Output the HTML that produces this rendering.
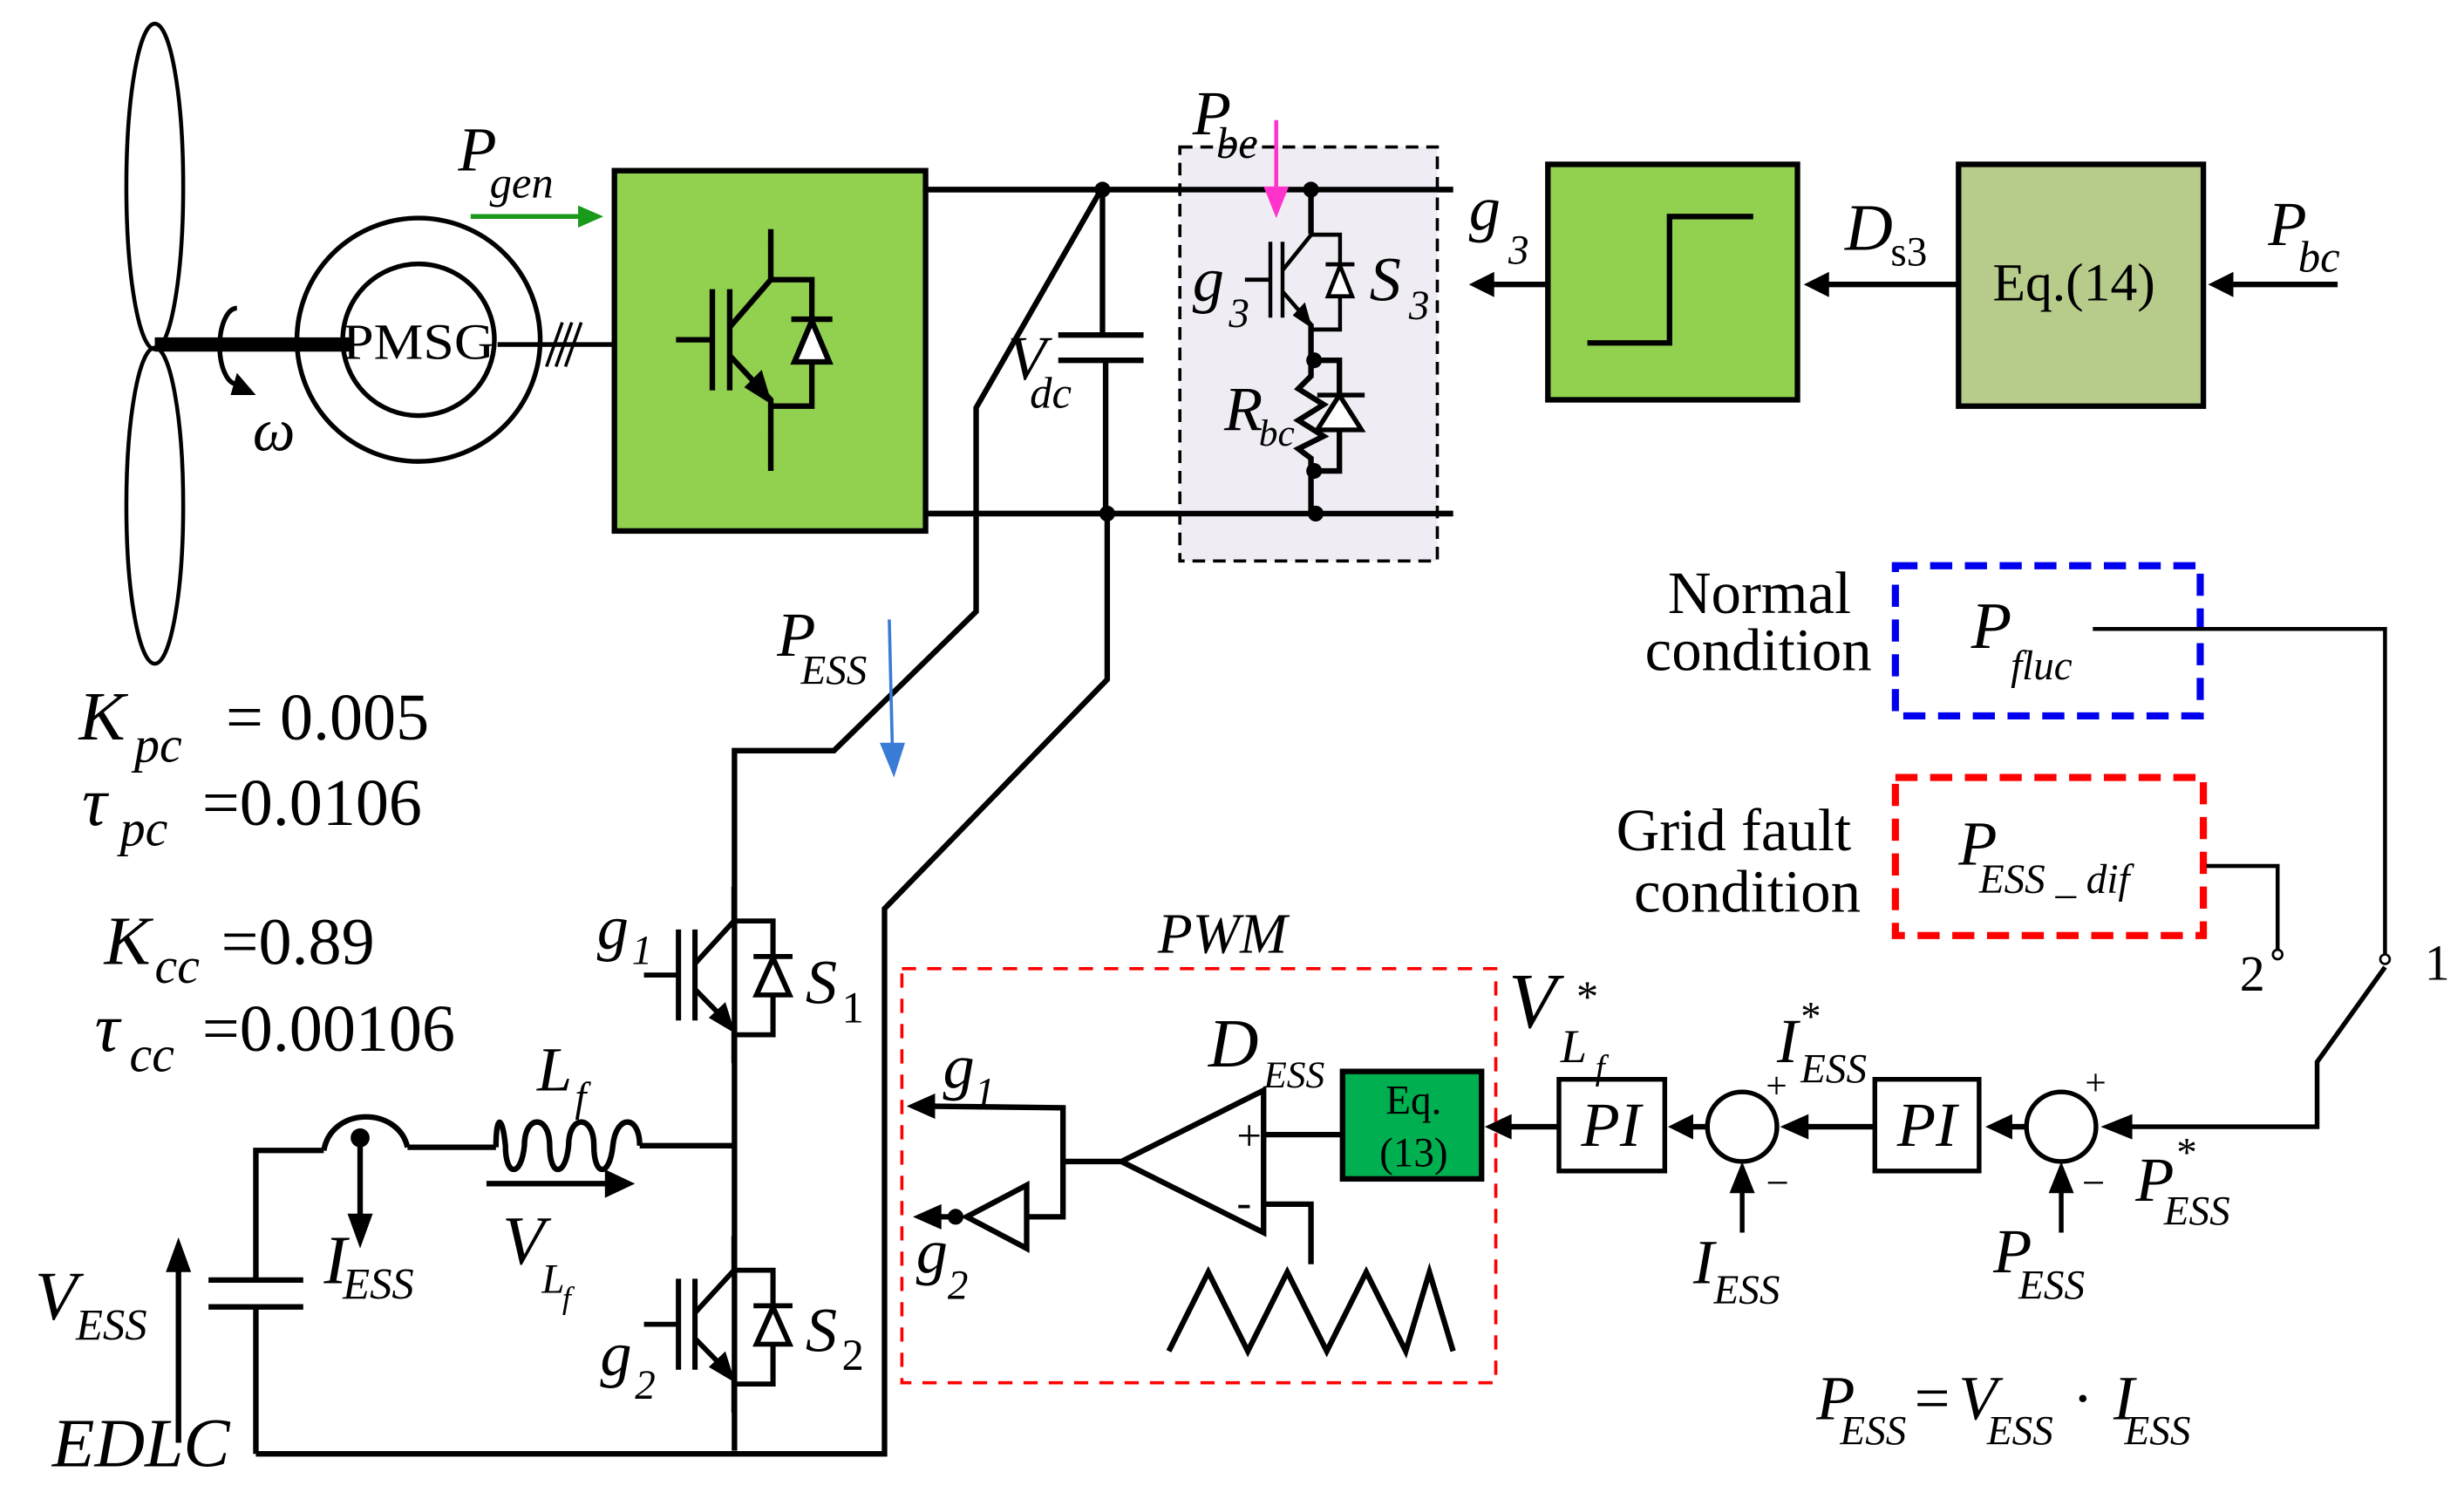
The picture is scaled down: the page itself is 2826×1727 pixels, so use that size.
<!DOCTYPE html>
<html><head><meta charset="utf-8"><style>
html,body{margin:0;padding:0;background:#fff;}
svg{display:block;}
text{font-family:"Liberation Serif","DejaVu Serif",serif;font-style:italic;fill:#000;}
.n{font-style:normal;}
</style></head><body>
<svg width="2826" height="1727" viewBox="0 0 1560 953" preserveAspectRatio="none" xmlns="http://www.w3.org/2000/svg">
<defs>
<g id="igbt" fill="none" stroke="#000" stroke-width="3.5">
<line x1="-34" y1="0" x2="-11" y2="0"/>
<line x1="-11" y1="-32" x2="-11" y2="32"/>
<line x1="0" y1="-32" x2="0" y2="32"/>
<polyline points="0,-8 26,-38 26,-62"/>
<polyline points="0,10 26,38 26,62"/>
<polygon points="26,40 10,30 20,20" fill="#000" stroke-width="1"/>
<polyline points="26,-38 52,-38 52,42 26,42"/>
<polygon points="41,14 63,14 52,-12" fill="#fff"/>
<line x1="39" y1="-13" x2="65" y2="-13"/>
</g>
</defs>

<ellipse cx="98" cy="118" rx="18" ry="103" fill="none" stroke="#000" stroke-width="2.5"/>
<ellipse cx="98" cy="320" rx="18" ry="100" fill="none" stroke="#000" stroke-width="2.5"/>
<line x1="98" y1="218" x2="222" y2="218" stroke="#000" stroke-width="9"/>
<path d="M150,195 A10,22 0 0 0 150,243" fill="none" stroke="#000" stroke-width="3"/>
<path d="M150,236 L162,250 L146,250z" fill="#000"/>
<text x="160" y="285" font-size="38">ω</text>
<circle cx="265" cy="215" r="77" fill="none" stroke="#000" stroke-width="3"/>
<circle cx="265" cy="215" r="48" fill="none" stroke="#000" stroke-width="3"/>
<text x="265" y="227" font-size="32" class="n" text-anchor="middle" textLength="96" lengthAdjust="spacingAndGlyphs">PMSG</text>
<line x1="315" y1="218" x2="388" y2="218" stroke="#000" stroke-width="3"/>
<g stroke="#000" stroke-width="2"><line x1="346" y1="232" x2="356" y2="204"/><line x1="352" y1="232" x2="362" y2="204"/><line x1="358" y1="232" x2="368" y2="204"/></g>

<text x="290" y="108" font-size="40">P</text><text x="310" y="125" font-size="28">gen</text>
<line x1="298" y1="137" x2="368" y2="137" stroke="#1a9a1a" stroke-width="3"/>
<path d="M366,130 L382,137 L366,144z" fill="#1a9a1a"/>

<rect x="389" y="108" width="197" height="228" fill="#92d050" stroke="#000" stroke-width="3.5"/>
<use href="#igbt" transform="translate(462,215)"/>
<line x1="488" y1="145" x2="488" y2="154" stroke="#000" stroke-width="3.5"/>
<line x1="488" y1="276" x2="488" y2="298" stroke="#000" stroke-width="3.5"/>

<g stroke="#000" stroke-width="3.5" fill="none">
<line x1="586" y1="120" x2="920" y2="120"/>
<line x1="586" y1="325" x2="920" y2="325"/>
<polyline points="696,122 618,258 618,387 528,475 465,475 465,918"/>
<polyline points="701,325 701,430 560,575 560,920 162,920"/>
<line x1="698" y1="120" x2="698" y2="212"/>
<line x1="670" y1="212" x2="724" y2="212"/>
<line x1="670" y1="228" x2="724" y2="228"/>
<line x1="700" y1="228" x2="700" y2="325"/>
</g>
<circle cx="698" cy="120" r="5" fill="#000"/><circle cx="701" cy="325" r="5" fill="#000"/>
<text x="638" y="240" font-size="40">V</text><text x="652" y="258" font-size="28">dc</text>

<rect x="747" y="93" width="163" height="262" fill="#efedf3" stroke="#000" stroke-width="2" stroke-dasharray="8,5"/>
<g stroke="#000" stroke-width="3.5" fill="none">
<line x1="586" y1="120" x2="920" y2="120"/>
<line x1="586" y1="325" x2="920" y2="325"/>
<line x1="830" y1="120" x2="830" y2="148"/>
<line x1="830" y1="205" x2="830" y2="228"/>
<polyline points="830,228 830,238 822,246 838,256 822,266 838,276 822,284 830,290 830,325"/>
<polyline points="832,228 848,228 848,298 832,298"/>
</g>
<polygon points="834,272 862,272 848,250" fill="#fff" stroke="#000" stroke-width="3"/>
<line x1="834" y1="250" x2="864" y2="250" stroke="#000" stroke-width="3"/>
<use href="#igbt" transform="translate(812,177) scale(0.7,0.75)"/>
<circle cx="830" cy="120" r="5" fill="#000"/><circle cx="832" cy="228" r="5" fill="#000"/><circle cx="832" cy="298" r="5" fill="#000"/><circle cx="833" cy="325" r="5" fill="#000"/>
<text x="755" y="85" font-size="40">P</text><text x="770" y="100" font-size="28">be</text>
<line x1="808" y1="76" x2="808" y2="122" stroke="#ff33cc" stroke-width="2.5"/>
<path d="M800,118 L816,118 L808,138z" fill="#ff33cc"/>
<text x="755" y="190" font-size="40">g</text><text x="778" y="207" font-size="26">3</text>
<text x="867" y="190" font-size="40">S</text><text x="892" y="202" font-size="26">3</text>
<text x="775" y="272" font-size="40">R</text><text x="797" y="282" font-size="24">bc</text>
<text x="930" y="145" font-size="40">g</text><text x="955" y="167" font-size="26">3</text>

<line x1="980" y1="180" x2="944" y2="180" stroke="#000" stroke-width="3.5"/><path d="M946,172 L930,180 L946,188z" fill="#000"/>
<rect x="980" y="104" width="158" height="149" fill="#92d050" stroke="#000" stroke-width="3.5"/>
<polyline points="1005,217 1057,217 1057,137 1110,137" fill="none" stroke="#000" stroke-width="3.5"/>
<text x="1168" y="158" font-size="42">D</text><text x="1197" y="168" font-size="26" class="n">s3</text>
<line x1="1240" y1="180" x2="1156" y2="180" stroke="#000" stroke-width="3.5"/><path d="M1158,172 L1142,180 L1158,188z" fill="#000"/>
<rect x="1240" y="104" width="155" height="153" fill="#b7cb8b" stroke="#000" stroke-width="3.5"/>
<text x="1313" y="190" font-size="34" class="n" text-anchor="middle">Eq.(14)</text>
<text x="1436" y="155" font-size="40">P</text><text x="1455" y="172" font-size="28">bc</text>
<line x1="1480" y1="180" x2="1412" y2="180" stroke="#000" stroke-width="3.5"/><path d="M1414,172 L1398,180 L1414,188z" fill="#000"/>

<text x="50" y="468" font-size="44">K</text><text x="85" y="482" font-size="32">pc</text><text x="143" y="468" font-size="42" class="n">= 0.005</text>
<text x="52" y="522" font-size="44">τ</text><text x="76" y="535" font-size="32">pc</text><text x="128" y="522" font-size="42" class="n">=0.0106</text>
<text x="66" y="610" font-size="44">K</text><text x="98" y="622" font-size="32">cc</text><text x="140" y="610" font-size="42" class="n">=0.89</text>
<text x="60" y="665" font-size="44">τ</text><text x="82" y="678" font-size="32">cc</text><text x="128" y="665" font-size="42" class="n">=0.00106</text>

<text x="492" y="415" font-size="40">P</text><text x="507" y="433" font-size="26">ESS</text>
<line x1="563" y1="392" x2="565" y2="475" stroke="#3a7bd5" stroke-width="2"/><path d="M557,470 L573,470 L566,492z" fill="#3a7bd5"/>

<use href="#igbt" transform="translate(440,617) scale(0.95,0.9)"/>
<use href="#igbt" transform="translate(440,838) scale(0.95,0.9)"/>
<text x="378" y="600" font-size="40">g</text><text x="400" y="610" font-size="26">1</text>
<text x="510" y="635" font-size="40">S</text><text x="533" y="647" font-size="28" class="n">1</text>
<text x="380" y="870" font-size="40">g</text><text x="402" y="885" font-size="26">2</text>
<text x="510" y="855" font-size="40">S</text><text x="533" y="867" font-size="28" class="n">2</text>

<g stroke="#000" stroke-width="3.5" fill="none">
<polyline points="465,725 405,725"/>
<path d="M405,725 C405,705 390,705 388,725 M388,725 C386,745 376,745 376,725 C376,705 360,705 360,725 C358,745 348,745 348,725 C348,705 332,705 332,725 C330,745 320,745 320,725 C318,705 314,705 314,726"/>
<polyline points="314,726 258,726"/>
<path d="M258,726 C252,700 210,700 205,728"/>
<polyline points="205,728 162,728 162,810"/>
<line x1="132" y1="810" x2="192" y2="810"/>
<line x1="132" y1="827" x2="192" y2="827"/>
<line x1="162" y1="827" x2="162" y2="920"/>
<line x1="228" y1="720" x2="228" y2="770"/>
<line x1="308" y1="749" x2="385" y2="749"/>
<line x1="113" y1="800" x2="113" y2="913"/>
</g>
<circle cx="228" cy="720" r="6" fill="#000"/>
<path d="M220,768 L236,768 L228,790z" fill="#000"/>
<path d="M383,740 L402,749 L383,758z" fill="#000"/>
<path d="M105,805 L121,805 L113,783z" fill="#000"/>
<text x="340" y="690" font-size="40">L</text><text x="364" y="703" font-size="26">f</text>
<text x="318" y="800" font-size="44">V</text><text x="343" y="818" font-size="26">L</text><text x="356" y="828" font-size="20">f</text>
<text x="205" y="812" font-size="44">I</text><text x="217" y="822" font-size="28">ESS</text>
<text x="22" y="835" font-size="44">V</text><text x="48" y="848" font-size="28">ESS</text>
<text x="33" y="928" font-size="44">EDLC</text>

<text x="733" y="603" font-size="36">PWM</text>
<rect x="571" y="613" width="376" height="262" fill="none" stroke="#ff0000" stroke-width="2" stroke-dasharray="9,7"/>
<g stroke="#000" stroke-width="3.5" fill="none">
<polygon points="800,690 800,780 710,735"/>
<polyline points="710,735 673,735 673,701 590,700"/>
<polyline points="673,735 673,770 650,770"/>
<polygon points="650,750 650,790 612,770"/>
<line x1="604" y1="770" x2="595" y2="770"/>
<polyline points="800,718 850,718"/>
<polyline points="800,762 830,762 830,800"/>
<polyline points="740,855 765,805 790,855 815,805 840,855 865,805 890,855 905,805 920,855"/>
</g>
<circle cx="605" cy="770" r="5" fill="#000"/>
<path d="M592,692 L574,700 L592,708z" fill="#000"/>
<path d="M596,762 L578,770 L596,778z" fill="#000"/>
<text x="783" y="728" font-size="28" class="n">+</text><text x="783" y="770" font-size="28" class="n">-</text>
<text x="597" y="688" font-size="40">g</text><text x="617" y="700" font-size="26">1</text>
<text x="580" y="805" font-size="40">g</text><text x="600" y="822" font-size="26">2</text>
<text x="765" y="675" font-size="44">D</text><text x="800" y="688" font-size="24">ESS</text>
<rect x="850" y="678" width="88" height="68" fill="#00b050" stroke="#000" stroke-width="3.5"/>
<text x="895" y="705" font-size="26" class="n" text-anchor="middle">Eq.</text>
<text x="895" y="738" font-size="26" class="n" text-anchor="middle">(13)</text>

<line x1="986" y1="713" x2="955" y2="713" stroke="#000" stroke-width="3.5"/><path d="M957,705 L940,713 L957,721z" fill="#000"/>
<rect x="987" y="683" width="67" height="58" fill="#fff" stroke="#000" stroke-width="3"/>
<text x="1020" y="725" font-size="40" text-anchor="middle">PI</text>
<text x="955" y="650" font-size="50">V</text><text x="998" y="640" font-size="28" class="n">*</text><text x="988" y="672" font-size="30">L</text><text x="1010" y="683" font-size="22">f</text>
<line x1="1081" y1="713" x2="1070" y2="713" stroke="#000" stroke-width="3.5"/><path d="M1072,705 L1056,713 L1072,721z" fill="#000"/>
<circle cx="1103" cy="713" r="22" fill="#fff" stroke="#000" stroke-width="3"/>
<text x="1118" y="695" font-size="24" class="n">+</text><text x="1118" y="757" font-size="26" class="n">−</text>
<line x1="1103" y1="780" x2="1103" y2="752" stroke="#000" stroke-width="3"/><path d="M1095,755 L1111,755 L1103,735z" fill="#000"/>
<text x="1072" y="812" font-size="40">I</text><text x="1085" y="825" font-size="26">ESS</text>
<text x="1125" y="672" font-size="40">I</text><text x="1140" y="652" font-size="26" class="n">*</text><text x="1140" y="685" font-size="26">ESS</text>
<line x1="1187" y1="713" x2="1143" y2="713" stroke="#000" stroke-width="3.5"/><path d="M1145,705 L1127,713 L1145,721z" fill="#000"/>
<rect x="1187" y="683" width="66" height="58" fill="#fff" stroke="#000" stroke-width="3"/>
<text x="1220" y="725" font-size="40" text-anchor="middle">PI</text>
<line x1="1283" y1="713" x2="1272" y2="713" stroke="#000" stroke-width="3.5"/><path d="M1274,705 L1257,713 L1274,721z" fill="#000"/>
<circle cx="1305" cy="713" r="22" fill="#fff" stroke="#000" stroke-width="3"/>
<text x="1320" y="693" font-size="24" class="n">+</text><text x="1318" y="757" font-size="26" class="n">−</text>
<line x1="1305" y1="780" x2="1305" y2="752" stroke="#000" stroke-width="3"/><path d="M1297,755 L1313,755 L1305,735z" fill="#000"/>
<text x="1262" y="805" font-size="40">P</text><text x="1278" y="822" font-size="26">ESS</text>
<text x="1352" y="760" font-size="40">P</text><text x="1378" y="738" font-size="26" class="n">*</text><text x="1370" y="775" font-size="26">ESS</text>
<polyline points="1510,612 1467,672 1467,713 1348,713" fill="none" stroke="#000" stroke-width="3"/>
<path d="M1350,705 L1330,713 L1350,721z" fill="#000"/>

<text x="1172" y="388" font-size="38" class="n" text-anchor="end">Normal</text>
<text x="1185" y="424" font-size="38" class="n" text-anchor="end">condition</text>
<rect x="1200" y="358" width="193" height="95" fill="none" stroke="#0000ee" stroke-width="4.5" stroke-dasharray="14,8"/>
<text x="1248" y="410" font-size="42">P</text><text x="1273" y="430" font-size="26">fluc</text>
<polyline points="1325,398 1510,398 1510,604" fill="none" stroke="#000" stroke-width="2.5"/>
<circle cx="1510" cy="607" r="3" fill="#fff" stroke="#000" stroke-width="1.5"/>
<text x="1535" y="620" font-size="32" class="n">1</text>
<text x="1172" y="538" font-size="38" class="n" text-anchor="end">Grid fault</text>
<text x="1178" y="577" font-size="38" class="n" text-anchor="end">condition</text>
<rect x="1200" y="492" width="195" height="100" fill="none" stroke="#ff0000" stroke-width="4.5" stroke-dasharray="14,8"/>
<text x="1240" y="547" font-size="40">P</text><text x="1253" y="565" font-size="26">ESS _ dif</text>
<polyline points="1397,548 1442,548 1442,601" fill="none" stroke="#000" stroke-width="2.5"/>
<circle cx="1442" cy="604" r="3" fill="#fff" stroke="#000" stroke-width="1.5"/>
<text x="1418" y="627" font-size="32" class="n">2</text>

<text x="1150" y="898" font-size="40">P</text><text x="1165" y="914" font-size="26">ESS</text>
<text x="1212" y="898" font-size="40" class="n">=</text><text x="1240" y="898" font-size="40">V</text><text x="1258" y="914" font-size="26">ESS</text>
<text x="1312" y="898" font-size="40" class="n">·</text><text x="1338" y="898" font-size="40">I</text><text x="1345" y="914" font-size="26">ESS</text>
</svg>
</body></html>
